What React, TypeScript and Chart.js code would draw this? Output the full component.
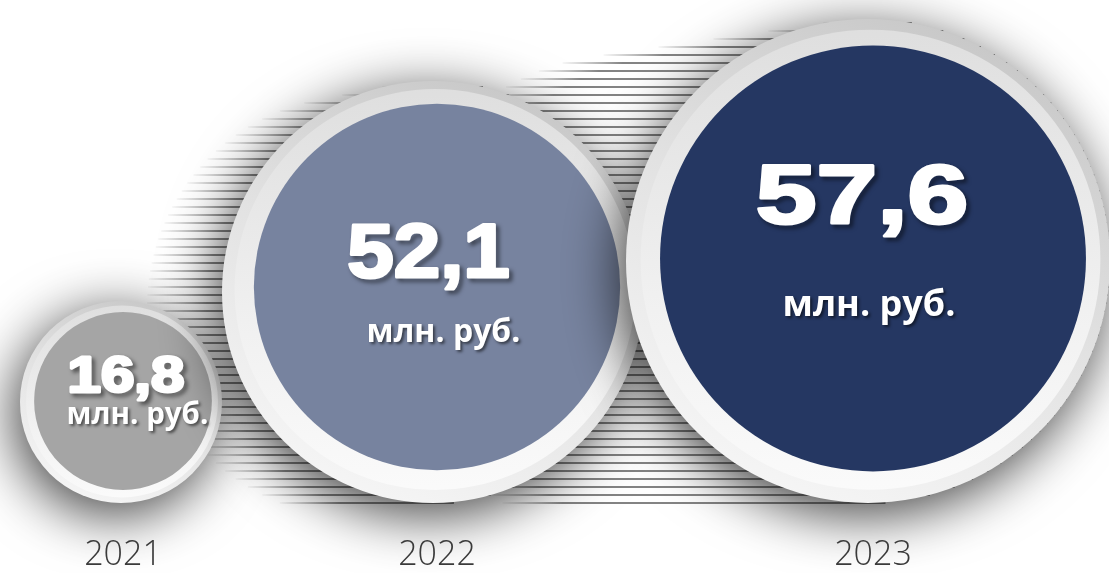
import React, { useEffect, useRef } from 'react';
import { Chart, registerables } from 'chart.js';

Chart.register(...registerables);

// ---------- data ----------
const years = ['2021', '2022', '2023'];
const values = [16.8, 52.1, 57.6];
const unitLabel = 'млн. руб.';

const formatValue = (v: number) => v.toFixed(1).replace('.', ',');

// ---------- layout / style (visual only) ----------
const CANVAS_W = 1109;
const AXIS_LINE = 36; // height of the year-label band
const PLOT_H = 573 - AXIS_LINE;
const ringRadius = [101, 211, 242];
const innerRatio = [0.88, 0.868, 0.88];
const innerShift = [
  [2, -1],
  [4, -5],
  [5, -2.5],
];
const leftEdge = 20;
const overlapPrev = [0, 0, 18];
const baseGap = 34;
const fills = ['#a5a5a5', '#77839f', '#253762'];
const trails: ({ t: number; u: number } | null)[] = [null, { t: 75, u: -15 }, { t: 240, u: -35 }];
const numStyle = [
  { size: 50, sx: 1.2, dx: 3, dy: -9 },
  { size: 76, sx: 1.1, dx: -8.5, dy: -10 },
  { size: 84, sx: 1.3, dx: -11, dy: -35.5 },
];
const unitStyle = [
  { size: 29.5, dx: 14.5, dy: 23 },
  { size: 32, dx: 6.5, dy: 54.5 },
  { size: 36, dx: -4, dy: 57 },
];

// packing of the rings from left to right
const outerX: number[] = [];
ringRadius.forEach((R, i) => {
  if (i === 0) outerX.push(leftEdge + R);
  else outerX.push(outerX[i - 1] + ringRadius[i - 1] + R - overlapPrev[i]);
});
const outerY = ringRadius.map((R) => baseGap + R); // height above plot bottom
const innerX = outerX.map((x, i) => x + innerShift[i][0]);
const innerY = outerY.map((y, i) => y - innerShift[i][1]);
const innerR = ringRadius.map((R, i) => R * innerRatio[i]);

const bubblePlugin = {
  id: 'bubbleDecor',
  beforeDraw(chart: any) {
    const { ctx, width, height } = chart;
    ctx.save();
    ctx.fillStyle = '#ffffff';
    ctx.fillRect(0, 0, width, height);
    ctx.restore();
  },
  beforeDatasetsDraw(chart: any) {
    const { ctx } = chart;
    years.forEach((_, i) => {
      const tr = trails[i];
      if (!tr) return;
      const el = chart.getDatasetMeta(i).data[0];
      if (!el) return;
      const R = ringRadius[i];
      const ox = el.x - innerShift[i][0];
      const oy = el.y - innerShift[i][1];
      ctx.save();
      ctx.lineWidth = 2;
      const top = oy - R - Math.max(0, tr.u);
      const bottom = oy + R + Math.max(0, -tr.u);
      const y0 = 15 + Math.ceil((top - 15) / 8) * 8;
      for (let y = y0; y <= Math.min(bottom, 505); y += 8) {
        let L = Infinity;
        let Rt = -Infinity;
        for (let s = 0; s <= 1.0001; s += 0.02) {
          const cx = ox - s * tr.t;
          const cy = oy - s * tr.u;
          const dy = y - cy;
          if (Math.abs(dy) >= R) continue;
          const hw = Math.sqrt(R * R - dy * dy);
          L = Math.min(L, cx - hw);
          Rt = Math.max(Rt, cx + hw);
        }
        if (!isFinite(L)) continue;
        const g = ctx.createLinearGradient(L, 0, L + 60, 0);
        g.addColorStop(0, 'rgba(110,110,110,0.05)');
        g.addColorStop(1, 'rgba(100,100,100,0.8)');
        ctx.strokeStyle = g;
        ctx.beginPath();
        ctx.moveTo(L, y);
        ctx.lineTo(Rt, y);
        ctx.stroke();
      }
      ctx.restore();
    });
  },
  beforeDatasetDraw(chart: any, args: any) {
    const i = args.index;
    const { ctx } = chart;
    const el = chart.getDatasetMeta(i).data[0];
    if (!el) return;
    const R = ringRadius[i];
    const ox = el.x - innerShift[i][0];
    const oy = el.y - innerShift[i][1];
    ctx.save();
    ctx.shadowColor = 'rgba(0,0,0,0.75)';
    ctx.shadowBlur = 55;
    ctx.shadowOffsetX = -6;
    ctx.shadowOffsetY = 12;
    ctx.beginPath();
    ctx.arc(ox, oy, R, 0, Math.PI * 2);
    const g = ctx.createLinearGradient(ox + R * 0.5, oy - R, ox - R * 0.4, oy + R);
    g.addColorStop(0, '#c6c6c6');
    g.addColorStop(0.5, '#e2e2e2');
    g.addColorStop(1, '#f6f6f6');
    ctx.fillStyle = g;
    ctx.fill();
    ctx.restore();
    ctx.save();
    ctx.beginPath();
    ctx.arc(ox + innerShift[i][0] * 0.5, oy + innerShift[i][1] * 0.5, R * 0.95, 0, Math.PI * 2);
    const g2 = ctx.createLinearGradient(ox, oy - R, ox, oy + R);
    g2.addColorStop(0, '#dedede');
    g2.addColorStop(0.6, '#f1f1f1');
    g2.addColorStop(1, '#fbfbfb');
    ctx.fillStyle = g2;
    ctx.fill();
    ctx.restore();
  },
  afterDatasetsDraw(chart: any) {
    const { ctx } = chart;
    years.forEach((_, i) => {
      const el = chart.getDatasetMeta(i).data[0];
      if (!el) return;
      const ns = numStyle[i];
      const us = unitStyle[i];
      const text = formatValue(values[i]);
      // number
      ctx.save();
      ctx.translate(el.x + ns.dx, el.y + ns.dy);
      ctx.scale(ns.sx, 1);
      ctx.font = `bold ${ns.size}px "Liberation Sans", Arial, sans-serif`;
      ctx.textAlign = 'center';
      ctx.textBaseline = 'alphabetic';
      ctx.lineJoin = 'round';
      ctx.shadowColor = 'rgba(0,0,0,0.6)';
      ctx.shadowBlur = 4;
      ctx.shadowOffsetX = 3;
      ctx.shadowOffsetY = 3;
      ctx.strokeStyle = '#ffffff';
      ctx.lineWidth = 3;
      ctx.strokeText(text, 0, 0);
      ctx.shadowColor = 'rgba(0,0,0,0)';
      ctx.fillStyle = '#ffffff';
      ctx.fillText(text, 0, 0);
      ctx.restore();
      // unit
      ctx.save();
      ctx.font = `bold ${us.size}px "Open Sans", "DejaVu Sans", sans-serif`;
      ctx.textAlign = 'center';
      ctx.textBaseline = 'alphabetic';
      ctx.shadowColor = 'rgba(0,0,0,0.55)';
      ctx.shadowBlur = 3;
      ctx.shadowOffsetX = 2;
      ctx.shadowOffsetY = 2;
      ctx.fillStyle = '#ffffff';
      ctx.fillText(unitLabel, el.x + us.dx, el.y + us.dy);
      ctx.restore();
    });
  },
};

export default function App() {
  const canvasRef = useRef<HTMLCanvasElement | null>(null);

  useEffect(() => {
    if (!canvasRef.current) return;
    const datasets = years.map((year, i) => ({
      label: year,
      data: [{ x: innerX[i], y: innerY[i], r: innerR[i], v: values[i] }],
      backgroundColor: fills[i],
      borderWidth: 0,
      hoverBorderWidth: 0,
      clip: false,
      order: years.length - 1 - i,
    }));
    const chart = new Chart(canvasRef.current, {
      type: 'bubble',
      data: { datasets },
      options: {
        animation: false,
        responsive: true,
        maintainAspectRatio: false,
        devicePixelRatio: 1,
        events: [],
        layout: { padding: 0, autoPadding: false },
        plugins: {
          legend: { display: false },
          tooltip: { enabled: false },
          title: { display: false },
        },
        scales: {
          x: {
            type: 'linear',
            min: 0,
            max: CANVAS_W,
            grid: { display: false, drawTicks: false },
            border: { display: false },
            afterBuildTicks: (scale: any) => {
              scale.ticks = innerX.map((v) => ({ value: v }));
            },
            ticks: {
              padding: 0,
              z: 1,
              autoSkip: false,
              maxRotation: 0,
              color: '#3a3a3a',
              font: { family: '"Open Sans", "DejaVu Sans", sans-serif', size: 34, weight: '300', lineHeight: `${AXIS_LINE}px` },
              callback: (_v: any, idx: number) => years[idx],
            },
          },
          y: {
            type: 'linear',
            display: false,
            min: 0,
            max: PLOT_H,
          },
        },
      },
      plugins: [bubblePlugin],
    } as any);
    return () => chart.destroy();
  }, []);

  return (
    <div style={{ position: 'absolute', left: 0, top: 0, width: CANVAS_W, height: 573, background: '#fff' }}>
      <canvas ref={canvasRef} />
    </div>
  );
}
